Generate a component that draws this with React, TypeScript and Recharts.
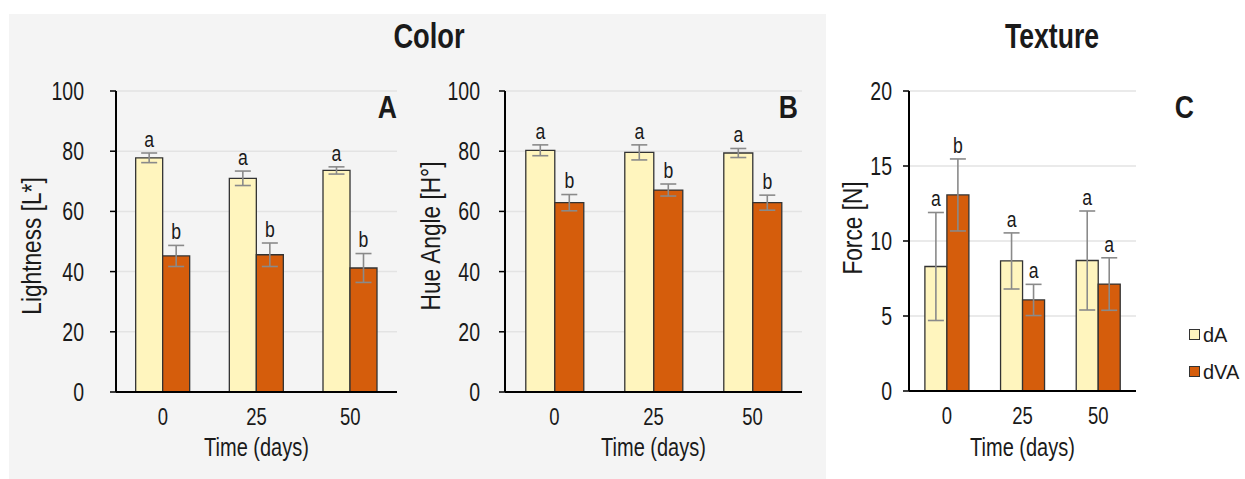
import { BarChart, Bar, XAxis, YAxis, CartesianGrid, ErrorBar, LabelList, Legend } from 'recharts';

const days = ['0', '25', '50'];

const lightnessDA = [77.8, 71.0, 73.6];
const lightnessDAErr = [1.6, 2.4, 1.2];
const lightnessDALetters = ['a', 'a', 'a'];
const lightnessDVA = [45.2, 45.6, 41.2];
const lightnessDVAErr = [3.5, 3.9, 4.8];
const lightnessDVALetters = ['b', 'b', 'b'];

const hueDA = [80.3, 79.6, 79.4];
const hueDAErr = [1.8, 2.5, 1.5];
const hueDALetters = ['a', 'a', 'a'];
const hueDVA = [62.9, 67.1, 62.9];
const hueDVAErr = [2.7, 2.0, 2.5];
const hueDVALetters = ['b', 'b', 'b'];

const forceDA = [8.3, 8.67, 8.7];
const forceDAErr = [3.6, 1.87, 3.3];
const forceDALetters = ['a', 'a', 'a'];
const forceDVA = [13.07, 6.07, 7.13];
const forceDVAErr = [2.4, 1.04, 1.75];
const forceDVALetters = ['b', 'a', 'a'];

const colorTicks = [0, 20, 40, 60, 80, 100];
const forceTicks = [0, 5, 10, 15, 20];

const FONT = '"Liberation Sans", Arial, sans-serif';
const INK = '#1a1a1a';
const YELLOW = '#FFF5BE';
const ORANGE = '#D55D0C';

type Row = { day: string; dA: number; dAErr: number; dALet: string; dVA: number; dVAErr: number; dVALet: string };

function buildRows(da: number[], daErr: number[], daLet: string[], dva: number[], dvaErr: number[], dvaLet: string[]): Row[] {
  return days.map((day, i) => ({
    day,
    dA: da[i], dAErr: daErr[i], dALet: daLet[i],
    dVA: dva[i], dVAErr: dvaErr[i], dVALet: dvaLet[i],
  }));
}

const lightnessRows = buildRows(lightnessDA, lightnessDAErr, lightnessDALetters, lightnessDVA, lightnessDVAErr, lightnessDVALetters);
const hueRows = buildRows(hueDA, hueDAErr, hueDALetters, hueDVA, hueDVAErr, hueDVALetters);
const forceRows = buildRows(forceDA, forceDAErr, forceDALetters, forceDVA, forceDVAErr, forceDVALetters);

// no narrow font installed, so squeeze the regular one horizontally
function NText({ x, y, size, sx = 0.8, anchor = 'middle', rotate = 0, bold = false, children }: any) {
  const t = `translate(${x} ${y})${rotate ? ` rotate(${rotate})` : ''} scale(${sx} 1)`;
  return (
    <text transform={t} textAnchor={anchor} dominantBaseline="central" fontSize={size} fontFamily={FONT} fontWeight={bold ? 'bold' : 'normal'} fill={INK}>
      {children}
    </text>
  );
}

const XTick = (p: any) => <NText x={p.x} y={p.y + 9} size={24} sx={0.77}>{p.payload.value}</NText>;
const YTick = (p: any) => <NText x={p.x} y={p.y} size={26} sx={0.75} anchor="end">{p.payload.value}</NText>;

// letter sits just above the error bar whisker
const letterOn = (rows: Row[], key: 'dA' | 'dVA') => (p: any) => {
  const vb = p.viewBox ?? {};
  const x = vb.x ?? p.x, y = vb.y ?? p.y, w = vb.width ?? p.width, h = vb.height ?? p.height;
  const row: any = rows[p.index];
  if (!row || x == null) return null;
  const top = y - row[key + 'Err'] * (h / row[key]);
  return <NText x={x + w / 2} y={top - 14} size={22} sx={0.8}>{row[key + 'Let']}</NText>;
};

function LegendBox({ payload }: any) {
  return (
    <div style={{ fontFamily: FONT, color: INK }}>
      {(payload || []).map((e: any) => (
        <div key={e.value} style={{ display: 'flex', alignItems: 'center', height: 37 }}>
          <div style={{ width: 9, height: 9, background: e.color, border: '1.2px solid #333', marginRight: 3 }} />
          <span style={{ fontSize: 21, display: 'inline-block', transform: 'scaleX(0.95)', transformOrigin: 'left center' }}>{e.value}</span>
        </div>
      ))}
    </div>
  );
}

type PanelProps = {
  left: number; width: number; rows: Row[]; domain: [number, number]; ticks: number[];
  yWidth: number; rightPad: number; bottomPad: number; tickGap: number;
  yLabel: string; yLabelX: number; yLabelY: number; legend?: boolean;
};

function Panel({ left, width, rows, domain, ticks, yWidth, rightPad, bottomPad, tickGap, yLabel, yLabelX, yLabelY, legend }: PanelProps) {
  return (
    <div style={{ position: 'absolute', left, top: 0 }}>
      <BarChart width={width} height={479} data={rows} margin={{ top: 91, right: rightPad, bottom: bottomPad, left: 0 }} barCategoryGap="21%" barGap={0}>
        <CartesianGrid vertical={false} stroke="#e3e3e3" strokeWidth={1.5} />
        <XAxis
          dataKey="day"
          height={60}
          axisLine={{ stroke: '#000', strokeWidth: 2 }}
          tickLine={false}
          tickMargin={10}
          tick={<XTick />}
          label={{
            value: 'Time (days)',
            content: (p: any) => {
              const vb = p.viewBox ?? {};
              return <NText x={vb.x + vb.width / 2} y={448} size={25} sx={0.8}>Time (days)</NText>;
            },
          }}
        />
        <YAxis
          width={yWidth}
          domain={domain}
          ticks={ticks}
          interval={0}
          axisLine={{ stroke: '#000', strokeWidth: 2 }}
          tickLine={{ stroke: '#000', strokeWidth: 1.5 }}
          tickSize={6}
          tickMargin={tickGap}
          tick={<YTick />}
          label={{
            value: yLabel,
            content: () => <NText x={yLabelX} y={yLabelY} size={28} sx={0.81} rotate={-90}>{yLabel}</NText>,
          }}
        />
        {legend && (
          <Legend layout="horizontal" verticalAlign="middle" align="right" content={<LegendBox />} wrapperStyle={{ left: 369, top: 316, width: 60 }} />
        )}
        <Bar dataKey="dA" name="dA" fill={YELLOW} stroke="#333" strokeWidth={1.3} isAnimationActive={false}>
          <ErrorBar dataKey="dAErr" width={8} stroke="#8a8a8a" strokeWidth={1.6} direction="y" isAnimationActive={false} />
          <LabelList dataKey="dALet" content={letterOn(rows, 'dA')} />
        </Bar>
        <Bar dataKey="dVA" name="dVA" fill={ORANGE} stroke="#333" strokeWidth={1.3} isAnimationActive={false}>
          <ErrorBar dataKey="dVAErr" width={8} stroke="#8a8a8a" strokeWidth={1.6} direction="y" isAnimationActive={false} />
          <LabelList dataKey="dVALet" content={letterOn(rows, 'dVA')} />
        </Bar>
      </BarChart>
    </div>
  );
}

export default function App() {
  return (
    <div style={{ position: 'absolute', left: 0, top: 0, width: 1245, height: 479, background: '#fff', overflow: 'hidden', fontFamily: FONT }}>
      <div style={{ position: 'absolute', left: 9, top: 14, width: 817, height: 465, background: '#f4f4f4' }} />
      <Panel left={0} width={420} rows={lightnessRows} domain={[0, 100]} ticks={colorTicks} yWidth={116} rightPad={23} bottomPad={27} tickGap={26} yLabel="Lightness [L*]" yLabelX={31} yLabelY={246} />
      <Panel left={410} width={410} rows={hueRows} domain={[0, 100]} ticks={colorTicks} yWidth={95} rightPad={18} bottomPad={27} tickGap={19} yLabel="Hue Angle  [H°]" yLabelX={20} yLabelY={236} />
      <Panel left={820} width={425} rows={forceRows} domain={[0, 20]} ticks={forceTicks} yWidth={89} rightPad={49} bottomPad={28} tickGap={11} yLabel="Force  [N]" yLabelX={32} yLabelY={228} legend />
      <svg width={1245} height={479} style={{ position: 'absolute', left: 0, top: 0, pointerEvents: 'none' }}>
        <NText x={429} y={36} size={35} sx={0.78} bold>Color</NText>
        <NText x={1052} y={36} size={35} sx={0.76} bold>Texture</NText>
        <NText x={397} y={107} size={32} sx={0.83} anchor="end" bold>A</NText>
        <NText x={798} y={107} size={32} sx={0.83} anchor="end" bold>B</NText>
        <NText x={1194} y={107} size={32} sx={0.83} anchor="end" bold>C</NText>
      </svg>
    </div>
  );
}
